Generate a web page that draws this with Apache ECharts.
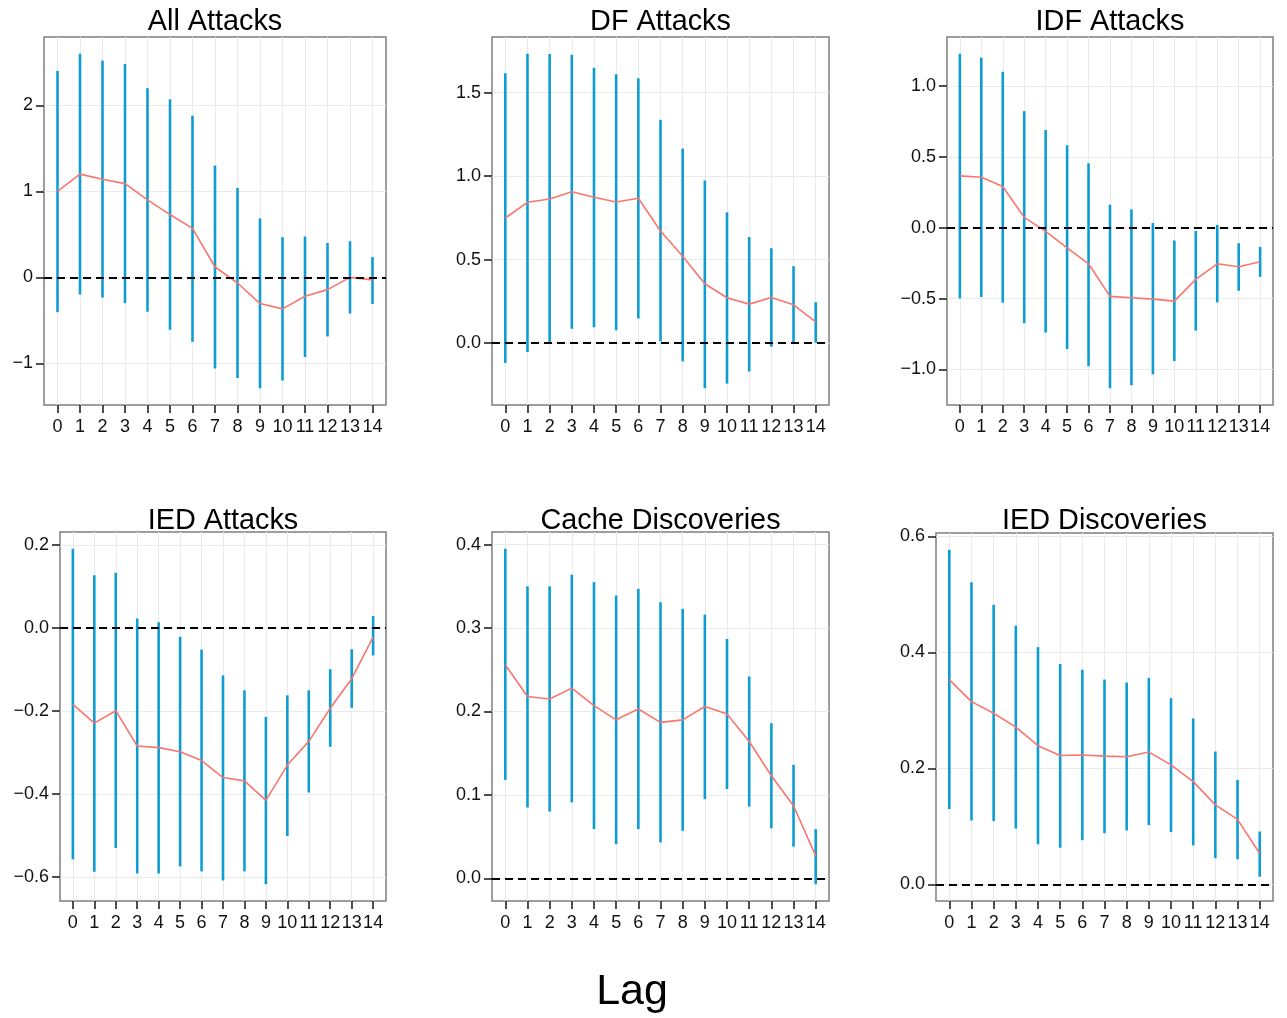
<!DOCTYPE html>
<html><head><meta charset="utf-8">
<script src="https://cdn.jsdelivr.net/npm/echarts@6/dist/echarts.min.js"></script>
<style>html,body{margin:0;padding:0;background:#fff}#c{width:1287px;height:1018px}</style>
</head><body><div id="c"></div>
<script>
const lags = [0,1,2,3,4,5,6,7,8,9,10,11,12,13,14];
const panelTitles = ['All Attacks','DF Attacks','IDF Attacks','IED Attacks','Cache Discoveries','IED Discoveries'];
const xTitle = 'Lag';

const allAttacksIrf   = [1.0, 1.20, 1.14, 1.09, 0.90, 0.73, 0.57, 0.12, -0.066, -0.305, -0.367, -0.22, -0.143, 0.0, -0.03];
const allAttacksLower = [-0.405, -0.20, -0.235, -0.30, -0.40, -0.61, -0.75, -1.06, -1.17, -1.29, -1.20, -0.927, -0.687, -0.42, -0.31];
const allAttacksUpper = [2.40, 2.60, 2.52, 2.48, 2.20, 2.07, 1.88, 1.30, 1.04, 0.685, 0.467, 0.475, 0.40, 0.42, 0.236];

const dfIrf   = [0.749, 0.843, 0.863, 0.906, 0.873, 0.845, 0.867, 0.671, 0.52, 0.355, 0.271, 0.233, 0.273, 0.229, 0.127];
const dfLower = [-0.12, -0.054, -0.006, 0.086, 0.094, 0.076, 0.147, 0.01, -0.11, -0.271, -0.243, -0.171, -0.022, 0.0, 0.002];
const dfUpper = [1.616, 1.733, 1.731, 1.727, 1.649, 1.61, 1.586, 1.337, 1.165, 0.974, 0.783, 0.635, 0.568, 0.46, 0.245];

const idfIrf   = [0.365, 0.356, 0.29, 0.073, -0.026, -0.143, -0.255, -0.485, -0.494, -0.504, -0.518, -0.365, -0.255, -0.276, -0.241];
const idfLower = [-0.499, -0.489, -0.529, -0.674, -0.74, -0.857, -0.977, -1.133, -1.112, -1.035, -0.941, -0.726, -0.527, -0.445, -0.347];
const idfUpper = [1.227, 1.199, 1.10, 0.822, 0.689, 0.581, 0.454, 0.162, 0.129, 0.033, -0.091, -0.023, 0.019, -0.11, -0.136];

const iedAttIrf   = [-0.184, -0.229, -0.199, -0.284, -0.288, -0.298, -0.319, -0.36, -0.368, -0.415, -0.33, -0.273, -0.193, -0.122, -0.022];
const iedAttLower = [-0.557, -0.587, -0.53, -0.591, -0.591, -0.574, -0.586, -0.608, -0.586, -0.617, -0.501, -0.396, -0.286, -0.192, -0.066];
const iedAttUpper = [0.191, 0.127, 0.133, 0.023, 0.014, -0.021, -0.052, -0.114, -0.15, -0.214, -0.162, -0.15, -0.099, -0.051, 0.029];

const cacheIrf   = [0.256, 0.218, 0.215, 0.228, 0.207, 0.190, 0.203, 0.187, 0.190, 0.206, 0.197, 0.164, 0.123, 0.087, 0.027];
const cacheLower = [0.118, 0.085, 0.080, 0.091, 0.059, 0.041, 0.059, 0.043, 0.057, 0.095, 0.107, 0.086, 0.060, 0.038, -0.007];
const cacheUpper = [0.395, 0.350, 0.350, 0.364, 0.355, 0.339, 0.347, 0.331, 0.323, 0.316, 0.287, 0.242, 0.186, 0.136, 0.059];

const iedDiscIrf   = [0.353, 0.315, 0.295, 0.271, 0.239, 0.222, 0.223, 0.221, 0.220, 0.228, 0.206, 0.177, 0.137, 0.112, 0.053];
const iedDiscLower = [0.130, 0.110, 0.109, 0.096, 0.069, 0.063, 0.076, 0.088, 0.093, 0.102, 0.090, 0.067, 0.045, 0.043, 0.013];
const iedDiscUpper = [0.577, 0.521, 0.482, 0.446, 0.409, 0.380, 0.370, 0.353, 0.348, 0.356, 0.321, 0.286, 0.229, 0.180, 0.091];

const yTicks1 = [-1, 0, 1, 2];
const yTicks2 = [0, 0.5, 1, 1.5];
const yTicks3 = [-1, -0.5, 0, 0.5, 1];
const yTicks4 = [-0.6, -0.4, -0.2, 0, 0.2];
const yTicks5 = [0, 0.1, 0.2, 0.3, 0.4];
const yTicks6 = [0, 0.2, 0.4, 0.6];

const panels = [
  {irf: allAttacksIrf, lo: allAttacksLower, hi: allAttacksUpper, ticks: yTicks1, dec: 0},
  {irf: dfIrf, lo: dfLower, hi: dfUpper, ticks: yTicks2, dec: 1},
  {irf: idfIrf, lo: idfLower, hi: idfUpper, ticks: yTicks3, dec: 1},
  {irf: iedAttIrf, lo: iedAttLower, hi: iedAttUpper, ticks: yTicks4, dec: 1},
  {irf: cacheIrf, lo: cacheLower, hi: cacheUpper, ticks: yTicks5, dec: 1},
  {irf: iedDiscIrf, lo: iedDiscLower, hi: iedDiscUpper, ticks: yTicks6, dec: 1}
];

// layout (pixels)
const gridBoxes = [
  {left: 44, top: 37, width: 342, height: 368},
  {left: 492, top: 37, width: 337, height: 368},
  {left: 947, top: 37, width: 326, height: 368},
  {left: 60, top: 532, width: 326, height: 369},
  {left: 492, top: 532, width: 337, height: 369},
  {left: 936, top: 533, width: 337, height: 368}
];

const FONT = "'Liberation Sans', Arial, Helvetica, sans-serif";
const BAR = '#0E9DD3';
const LINE = '#F8766D';

const grids = [], xAxes = [], yAxes = [], series = [], graphics = [];
panels.forEach((p, i) => {
  const g = gridBoxes[i];
  grids.push({left: g.left, top: g.top, width: g.width, height: g.height, show: true,
    borderColor: '#7F7F7F', borderWidth: 1.5, backgroundColor: 'transparent', containLabel: false});
  const lo = Math.min(0, ...p.lo), hi = Math.max(0, ...p.hi);
  const pad = (hi - lo) * 0.05;
  xAxes.push({type: 'value', gridIndex: i, min: -0.6, max: 14.6, position: 'bottom',
    axisLine: {show: false, onZero: false},
    axisTick: {show: true, inside: false, customValues: lags, length: 8, lineStyle: {color: '#222', width: 1.6}},
    axisLabel: {show: true, customValues: lags, margin: 13, color: '#111', fontSize: 18, fontFamily: FONT,
      formatter: v => String(v)},
    splitLine: {show: true, lineStyle: {color: '#EBEBEB', width: 1}}
  });
  yAxes.push({type: 'value', gridIndex: i, min: lo - pad, max: hi + pad, position: 'left',
    axisLine: {show: false, onZero: false},
    axisTick: {show: true, inside: false, customValues: p.ticks, length: 8, lineStyle: {color: '#222', width: 1.6}},
    axisLabel: {show: true, customValues: p.ticks, margin: 11, color: '#111', fontSize: 18, fontFamily: FONT,
      formatter: v => v.toFixed(p.dec).replace('-', '\u2212')},
    splitLine: {show: true, lineStyle: {color: '#EBEBEB', width: 1}}
  });
  series.push({
    type: 'custom', xAxisIndex: i, yAxisIndex: i, z: 2, silent: true,
    data: lags.map((l, k) => [l, p.lo[k], p.hi[k]]),
    encode: {x: 0, y: [1, 2]},
    renderItem: (params, api) => {
      const x = api.value(0);
      const a = api.coord([x, api.value(1)]);
      const b = api.coord([x, api.value(2)]);
      return {type: 'line', shape: {x1: a[0], y1: a[1], x2: b[0], y2: b[1]},
        style: {stroke: BAR, lineWidth: 2.6}};
    }
  });
  series.push({
    type: 'line', xAxisIndex: i, yAxisIndex: i, z: 3, silent: true, symbol: 'none',
    data: [],
    markLine: {silent: true, symbol: 'none', label: {show: false},
      lineStyle: {color: '#000', type: [8, 5], width: 2},
      data: [{yAxis: 0}]}
  });
  series.push({
    type: 'line', xAxisIndex: i, yAxisIndex: i, z: 4, silent: true, symbol: 'none',
    data: lags.map((l, k) => [l, p.irf[k]]),
    lineStyle: {color: LINE, width: 1.6}
  });
  graphics.push({type: 'text', x: g.left + g.width / 2, y: i < 3 ? 22 : 521,
    style: {text: panelTitles[i], fill: '#000', font: '28.8px ' + FONT, align: 'center', verticalAlign: 'middle'}});
});
graphics.push({type: 'text', x: 632, y: 992,
  style: {text: xTitle, fill: '#000', font: '43px ' + FONT, align: 'center', verticalAlign: 'middle'}});

const chart = echarts.init(document.getElementById('c'), null, {renderer: 'canvas'});
chart.setOption({
  animation: false,
  backgroundColor: '#fff',
  grid: grids, xAxis: xAxes, yAxis: yAxes, series: series,
  graphic: graphics
});
</script>
</body></html>
